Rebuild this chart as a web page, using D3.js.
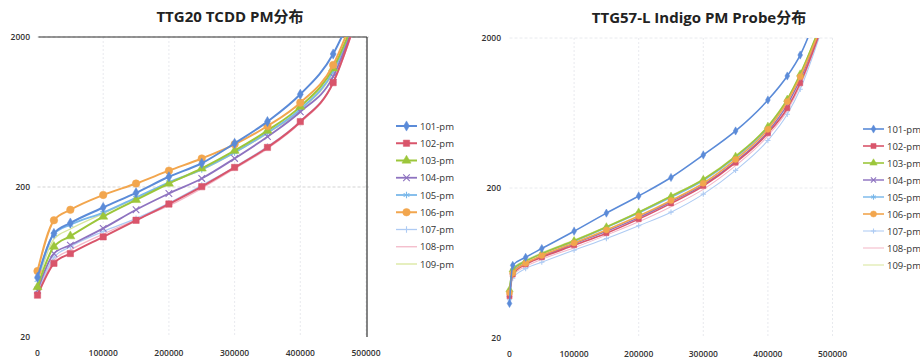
<!DOCTYPE html>
<html>
<head>
    <meta charset="utf-8">
    <style>
        body {
            margin: 0;
            background-color: #FFF;
        }
        #chartArea {
            width: 920px;
            height: 360px;
        }
        text {
            font-family: "Open Sans", "Noto Sans CJK SC", sans-serif;
        }
    </style>
</head>
<body>
<div id="chartArea"></div>
<script src="https://cdnjs.cloudflare.com/ajax/libs/d3/7.8.5/d3.min.js"></script>

<script>
    /* -----------------------------------
        data
    ----------------------------------- */
    var seriesNames = ["101-pm", "102-pm", "103-pm", "104-pm", "105-pm", "106-pm", "107-pm", "108-pm", "109-pm"];

    var xTicks = [0, 100000, 200000, 300000, 400000, 500000];
    var yTicks = [20, 200, 2000];

    var leftTitle = "TTG20 TCDD PM分布";
    var rightTitle = "TTG57-L Indigo PM Probe分布";

    // left chart: TTG20 TCDD
    var leftX = [0, 25000, 50000, 100000, 150000, 200000, 250000, 300000, 350000, 400000, 450000, 480000];
    var left101 = [50, 98, 115, 146, 183, 234, 288, 391, 546, 830, 1540, 2940];
    var left102 = [38, 62, 72, 93, 120, 154, 201, 270, 367, 545, 993, 2250];
    var left103 = [43, 80, 94, 127, 164, 211, 266, 349, 475, 687, 1237, 2440];
    var left104 = [41, 72, 82, 106, 141, 181, 228, 310, 433, 635, 1089, 2310];
    var left105 = [48, 97, 112, 135, 170, 215, 262, 340, 460, 660, 1180, 2400];
    var left106 = [55, 120, 141, 177, 211, 257, 310, 385, 510, 730, 1302, 2690];
    var left107 = [40, 68, 80, 101, 123, 156, 205, 272, 372, 550, 1000, 2250];
    var left108 = [39, 65, 76, 97, 121, 150, 196, 265, 360, 535, 980, 2200];
    var left109 = [45, 90, 105, 133, 168, 212, 260, 338, 455, 650, 1160, 2400];

    // right chart: TTG57-L Indigo
    var rightX = [0, 5000, 25000, 50000, 100000, 150000, 200000, 250000, 300000, 350000, 400000, 430000, 450000, 480000];
    var right101 = [34, 61, 69, 79, 103, 136, 177, 235, 332, 480, 772, 1116, 1540, 3200];
    var right102 = [38, 53, 62, 69, 83, 100, 124, 158, 206, 295, 463, 680, 998, 2150];
    var right103 = [42, 57, 65, 73, 89, 110, 138, 176, 228, 325, 515, 780, 1150, 2350];
    var right104 = [39, 55, 63, 70, 85, 103, 127, 162, 210, 300, 475, 720, 1060, 2200];
    var right105 = [41, 57, 65, 73, 88, 109, 136, 173, 224, 320, 505, 770, 1130, 2300];
    var right106 = [40, 54, 63, 71, 86, 105, 130, 165, 215, 310, 492, 753, 1104, 2250];
    var right107 = [36, 50, 58, 64, 77, 92, 112, 138, 182, 262, 415, 620, 910, 2050];
    var right108 = [37, 52, 60, 67, 80, 97, 119, 150, 196, 282, 445, 655, 960, 2100];
    var right109 = [43, 58, 66, 74, 90, 111, 139, 178, 230, 328, 520, 790, 1160, 2350];

    var leftValues = [left101, left102, left103, left104, left105, left106, left107, left108, left109];
    var rightValues = [right101, right102, right103, right104, right105, right106, right107, right108, right109];

    /* -----------------------------------
        styles per series
    ----------------------------------- */
    var colors = ["#5b8bd8", "#d9556b", "#9cc63b", "#8e73c0", "#7ab8ea", "#f2a64e", "#aecbf3", "#f3b8c8", "#d8e69c"];
    var widths = [2, 2, 2, 1.8, 1.8, 2, 1.3, 1.3, 1.3];
    var symTimes = d3.symbolTimes || d3.symbolCross;
    var symStar = d3.symbolAsterisk || d3.symbolStar;
    var symPlus = d3.symbolPlus || d3.symbolCross;
    var markers = [
        {type: d3.symbolDiamond, size: 30, fill: true},
        {type: d3.symbolSquare, size: 40, fill: true},
        {type: d3.symbolTriangle, size: 36, fill: true},
        {type: symTimes, size: 30, fill: false},
        {type: symStar, size: 30, fill: false},
        {type: d3.symbolCircle, size: 45, fill: true},
        {type: symPlus, size: 16, fill: false},
        null,
        null
    ];

    var svg = d3.select("#chartArea").append("svg")
        .attr("width", 920)
        .attr("height", 360);

    /* -----------------------------------
        one panel
    ----------------------------------- */
    function drawPanel(p) {
        var x = d3.scaleLinear().domain([0, 500000]).range([p.x0, p.x1]);
        var y = d3.scaleLog().domain([20, 2000]).range([p.y0, p.y1]);
        var g = svg.append("g");

        // gridlines
        g.selectAll(".vgrid").data(xTicks.slice(1)).enter().append("line")
            .attr("x1", function(d) { return x(d); })
            .attr("x2", function(d) { return x(d); })
            .attr("y1", p.y1).attr("y2", p.y0)
            .attr("stroke", "#e2e4ea").attr("stroke-width", 0.8)
            .attr("stroke-dasharray", "2,2");
        g.selectAll(".hgrid").data(yTicks.slice(1)).enter().append("line")
            .attr("x1", p.x0).attr("x2", p.x1 + (p.frame ? 3 : 0))
            .attr("y1", function(d) { return y(d); })
            .attr("y2", function(d) { return y(d); })
            .attr("stroke", p.frame ? "#c8c8c8" : "#e2e4ea").attr("stroke-width", 0.8)
            .attr("stroke-dasharray", "3,2");

        if (p.frame) {
            g.append("line").attr("x1", p.x0 + 1).attr("x2", p.x1 + 1)
                .attr("y1", p.y1).attr("y2", p.y1)
                .attr("stroke", "#333").attr("stroke-width", 1.2);
            g.append("line").attr("x1", p.x1 + 1).attr("x2", p.x1 + 1)
                .attr("y1", p.y1).attr("y2", p.y0)
                .attr("stroke", "#333").attr("stroke-width", 1.2);
        }

        // tick labels
        g.selectAll(".ylab").data(yTicks).enter().append("text")
            .attr("x", p.yLabelX)
            .attr("y", function(d) { return y(d) + 3; })
            .attr("text-anchor", "end")
            .attr("font-size", "8.5px").attr("font-weight", 600).attr("fill", "#333")
            .text(function(d) { return d; });
        g.selectAll(".xlab").data(xTicks).enter().append("text")
            .attr("x", function(d) { return x(d); })
            .attr("y", p.xLabelY)
            .attr("text-anchor", "middle")
            .attr("font-size", "8.5px").attr("font-weight", 600).attr("fill", "#333")
            .text(function(d) { return d; });

        // title
        g.append("text")
            .attr("x", p.titleX).attr("y", p.titleY)
            .attr("text-anchor", "middle")
            .attr("font-size", "15px").attr("font-weight", "bold").attr("fill", "#222")
            .text(p.title);

        // clip
        var clipId = "clip" + p.id;
        svg.append("clipPath").attr("id", clipId).append("rect")
            .attr("x", p.x0 - 6).attr("y", p.y1)
            .attr("width", p.x1 - p.x0 + 12).attr("height", p.y0 - p.y1 + 6);

        var plot = g.append("g").attr("clip-path", "url(#" + clipId + ")");
        var line = d3.line()
            .x(function(d) { return x(d[0]); })
            .y(function(d) { return y(d[1]); })
            .curve(d3.curveMonotoneX);

        // draw thin series first, bold ones on top
        var order = [8, 7, 6, 4, 3, 1, 2, 5, 0];
        order.forEach(function(i) {
            var pts = p.xs.map(function(v, k) { return [v, p.values[i][k]]; });
            plot.append("path").datum(pts)
                .attr("d", line)
                .attr("fill", "none")
                .attr("stroke", colors[i])
                .attr("stroke-width", widths[i] * p.lineScale);
            var m = markers[i];
            if (m) {
                plot.selectAll(".m" + i).data(pts.filter(function(d) { return d[1] <= 2000; })).enter()
                    .append("path")
                    .attr("transform", function(d) { return "translate(" + x(d[0]) + "," + y(d[1]) + ")"; })
                    .attr("d", d3.symbol().type(m.type).size(m.size * p.markScale))
                    .attr("fill", m.fill ? colors[i] : "none")
                    .attr("stroke", colors[i])
                    .attr("stroke-width", m.fill ? 0.5 : 1.1);
            }
        });

        // legend
        var leg = g.selectAll(".leg").data(seriesNames).enter().append("g")
            .attr("transform", function(d, i) { return "translate(" + p.legX + "," + (p.legY + i * p.legStep) + ")"; });
        leg.append("line")
            .attr("x1", 0).attr("x2", 21).attr("y1", 0).attr("y2", 0)
            .attr("stroke", function(d, i) { return colors[i]; })
            .attr("stroke-width", function(d, i) { return widths[i] * p.lineScale; });
        leg.each(function(d, i) {
            var m = markers[i];
            if (!m) return;
            d3.select(this).append("path")
                .attr("transform", "translate(10.5,0)")
                .attr("d", d3.symbol().type(m.type).size(m.size * p.markScale))
                .attr("fill", m.fill ? colors[i] : "none")
                .attr("stroke", colors[i])
                .attr("stroke-width", m.fill ? 0.5 : 1.1);
        });
        leg.append("text")
            .attr("x", 24).attr("y", 3.5)
            .attr("font-size", "9.5px").attr("fill", "#333")
            .text(function(d) { return d; });
    }

    drawPanel({
        id: "L", title: leftTitle, titleX: 230, titleY: 22,
        xs: leftX, values: leftValues,
        x0: 37.5, x1: 366, y0: 337, y1: 37,
        yLabelX: 30, xLabelY: 356, frame: true,
        lineScale: 1, markScale: 1,
        legX: 396, legY: 126, legStep: 17.25
    });

    drawPanel({
        id: "R", title: rightTitle, titleX: 699, titleY: 23,
        xs: rightX, values: rightValues,
        x0: 509.5, x1: 832.5, y0: 338, y1: 38,
        yLabelX: 501, xLabelY: 357, frame: false,
        lineScale: 0.8, markScale: 0.65,
        legX: 863, legY: 129, legStep: 17
    });
</script>
</body>
</html>
